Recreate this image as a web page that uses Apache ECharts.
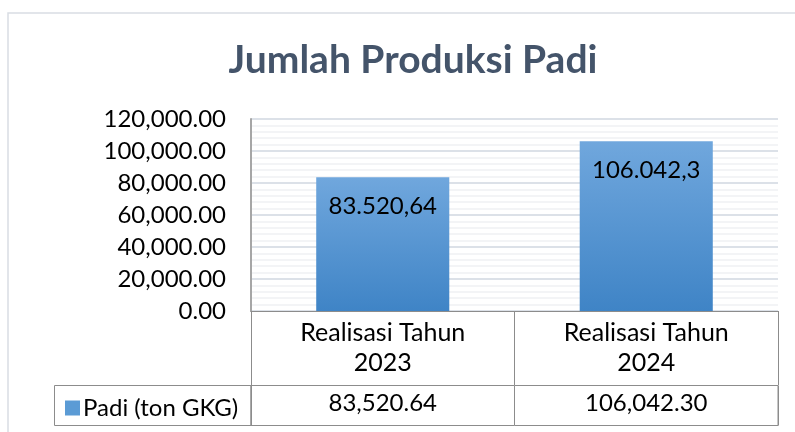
<!DOCTYPE html>
<html>
<head>
<meta charset="utf-8">
<style>
  html, body { margin: 0; padding: 0; background: #fff; }
  #chart { width: 795px; height: 432px; }
</style>
<script src="https://cdn.jsdelivr.net/npm/echarts@6/dist/echarts.min.js"></script>
</head>
<body>
<div id="chart"></div>
<script>
  // data
  var categories = ['Realisasi Tahun\n2023', 'Realisasi Tahun\n2024'];
  var padiValues = [83520.64, 106042.30];
  var seriesName = 'Padi (ton GKG)';
  var chartTitle = 'Jumlah Produksi Padi';

  var font = 'Lato, "Open Sans", sans-serif';

  // 1,234.56 style (axis + table)
  function fmtEn(v) {
    var p = v.toFixed(2).split('.');
    return p[0].replace(/\B(?=(\d{3})+(?!\d))/g, ',') + '.' + p[1];
  }
  // 1.234,5 style (bar labels)
  function fmtId(v) {
    var p = String(v).split('.');
    var s = p[0].replace(/\B(?=(\d{3})+(?!\d))/g, '.');
    return p.length > 1 ? s + ',' + p[1] : s;
  }

  var tableRow = padiValues.map(function (v) { return fmtEn(v); });

  var chart = echarts.init(document.getElementById('chart'));
  var option = {
    backgroundColor: '#fff',
    animation: false,
    textStyle: { fontFamily: font },
    title: {
      text: chartTitle,
      left: 408,
      textAlign: 'center',
      top: 36,
      textStyle: { fontFamily: font, fontSize: 39, fontWeight: 'bold', color: '#44546a' }
    },
    legend: {
      left: 60,
      top: 391,
      itemWidth: 15,
      itemHeight: 15,
      itemGap: 4,
      icon: 'rect',
      textStyle: { fontSize: 24, color: '#000', padding: [0, 0, 0, -2] },
      data: [{ name: seriesName, itemStyle: { color: '#5b9bd5' } }]
    },
    graphic: [
      {
        type: 'rect', silent: true, z: -1,
        shape: { x: 8, y: 13, width: 800, height: 430 },
        style: { fill: 'none', stroke: '#d9dde3', lineWidth: 1.5 }
      },
      {
        type: 'rect', silent: true,
        shape: { x: 54.5, y: 385.5, width: 196.5, height: 40 },
        style: { fill: 'none', stroke: '#8c8c8c', lineWidth: 1 }
      }
    ],
    grid: [
      { left: 251, right: 17, top: 119, bottom: 121 },
      { left: 251, right: 17, top: 385.5, height: 40, show: true, borderColor: '#8c8c8c', borderWidth: 1 }
    ],
    xAxis: [
      {
        type: 'category',
        gridIndex: 0,
        data: categories,
        axisLine: { lineStyle: { color: '#8c8c8c', width: 1 } },
        axisTick: { show: true, interval: 0, length: 74, lineStyle: { color: '#8c8c8c' } },
        axisLabel: { fontSize: 25, lineHeight: 30, color: '#000', margin: 7, interval: 0 }
      },
      {
        type: 'category',
        gridIndex: 1,
        position: 'top',
        data: tableRow,
        axisLine: { show: false },
        axisTick: { show: false },
        splitLine: { show: true, interval: 0, lineStyle: { color: '#8c8c8c', width: 1 } },
        axisLabel: { inside: true, fontSize: 24, color: '#000', margin: 6, interval: 0 }
      }
    ],
    yAxis: [
      {
        type: 'value',
        gridIndex: 0,
        min: 0,
        max: 120000,
        interval: 20000,
        axisLine: { show: true, lineStyle: { color: '#a6a6a6', width: 2 } },
        axisTick: { show: false },
        axisLabel: { fontSize: 24, color: '#000', margin: 25, formatter: function (v) { return fmtEn(v); } },
        splitLine: { lineStyle: { color: '#dce1e8', width: 2 } },
        minorTick: { splitNumber: 5 },
        minorSplitLine: { show: true, lineStyle: { color: '#eff1f4', width: 1.5 } }
      },
      { type: 'value', gridIndex: 1, show: false }
    ],
    series: [
      {
        name: seriesName,
        type: 'bar',
        xAxisIndex: 0,
        yAxisIndex: 0,
        data: padiValues,
        barWidth: '50.5%',
        itemStyle: {
          color: new echarts.graphic.LinearGradient(0, 0, 0, 1, [
            { offset: 0, color: '#70a7dd' },
            { offset: 1, color: '#3f84c6' }
          ])
        },
        label: {
          show: true,
          position: 'insideTop',
          distance: 17,
          fontSize: 24,
          color: '#000',
          formatter: function (p) { return fmtId(p.value); }
        }
      }
    ]
  };
  chart.setOption(option);
</script>
</body>
</html>
